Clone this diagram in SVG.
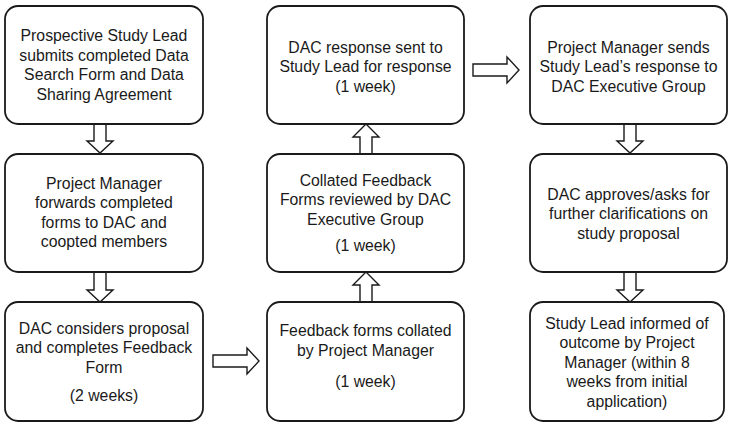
<svg xmlns="http://www.w3.org/2000/svg" width="732" height="426" viewBox="0 0 732 426">
<style>
.box{fill:#fff;stroke:#1a1a1a;stroke-width:1.8}
.arr{fill:#fff;stroke:#1a1a1a;stroke-width:1.4;stroke-linejoin:miter}
text{font-family:"Liberation Sans",Arial,sans-serif;font-size:15.8px;fill:#1a1a1a;text-anchor:middle}
</style>
<rect width="732" height="426" fill="#fff"/>
<g id="connectors">
<polygon class="arr" points="94,124 106,124 106,141 113,141 100,153 87,141 94,141"/>
<polygon class="arr" points="94,272 106,272 106,290 113,290 100,302 87,290 94,290"/>
<polygon class="arr" points="213,355 247,355 247,348 259,361 247,374 247,367 213,367"/>
<polygon class="arr" points="360,302 372,302 372,285 379,285 366,272 353,285 360,285"/>
<polygon class="arr" points="360,154 372,154 372,137 379,137 366,124 353,137 360,137"/>
<polygon class="arr" points="473,64 507,64 507,57 519,70 507,83 507,76 473,76"/>
<polygon class="arr" points="624,124 636,124 636,141 643,141 630,153 617,141 624,141"/>
<polygon class="arr" points="624,272 636,272 636,290 643,290 630,302 617,290 624,290"/>
</g>
<g id="n1">
<rect class="box" x="5" y="6" width="198" height="118" rx="13"/>
<text x="104" y="41">Prospective Study Lead</text>
<text x="104" y="60.5">submits completed Data</text>
<text x="104" y="80">Search Form and Data</text>
<text x="104" y="99.5">Sharing Agreement</text>
</g>
<g id="n2">
<rect class="box" x="5" y="154" width="198" height="118" rx="13"/>
<text x="104" y="188.5">Project Manager</text>
<text x="104" y="208">forwards completed</text>
<text x="104" y="227.5">forms to DAC and</text>
<text x="104" y="247">coopted members</text>
</g>
<g id="n3">
<rect class="box" x="5" y="302" width="198" height="119" rx="13"/>
<text x="104" y="333.5">DAC considers proposal</text>
<text x="104" y="353">and completes Feedback</text>
<text x="104" y="372.5">Form</text>
<text x="104" y="400.5">(2 weeks)</text>
</g>
<g id="n4">
<rect class="box" x="267" y="302" width="197" height="119" rx="13"/>
<text x="365.5" y="336">Feedback forms collated</text>
<text x="365.5" y="355.5">by Project Manager</text>
<text x="365.5" y="387">(1 week)</text>
</g>
<g id="n5">
<rect class="box" x="267" y="154" width="197" height="118" rx="13"/>
<text x="365.5" y="185.5">Collated Feedback</text>
<text x="365.5" y="205">Forms reviewed by DAC</text>
<text x="365.5" y="224.5">Executive Group</text>
<text x="365.5" y="251">(1 week)</text>
</g>
<g id="n6">
<rect class="box" x="267" y="6" width="197" height="118" rx="13"/>
<text x="365.5" y="52.5">DAC response sent to</text>
<text x="365.5" y="72">Study Lead for response</text>
<text x="365.5" y="91.5">(1 week)</text>
</g>
<g id="n7">
<rect class="box" x="530" y="6" width="197" height="118" rx="13"/>
<text x="628.5" y="52.5">Project Manager sends</text>
<text x="628.5" y="72">Study Lead’s response to</text>
<text x="628.5" y="91.5">DAC Executive Group</text>
</g>
<g id="n8">
<rect class="box" x="530" y="154" width="197" height="118" rx="13"/>
<text x="628.5" y="199.5">DAC approves/asks for</text>
<text x="628.5" y="219">further clarifications on</text>
<text x="628.5" y="238.5">study proposal</text>
</g>
<g id="n9">
<rect class="box" x="530" y="302" width="194" height="119" rx="13"/>
<text x="627" y="328.5">Study Lead informed of</text>
<text x="627" y="348">outcome by Project</text>
<text x="627" y="367.5">Manager (within 8</text>
<text x="627" y="387">weeks from initial</text>
<text x="627" y="406.5">application)</text>
</g>
</svg>
